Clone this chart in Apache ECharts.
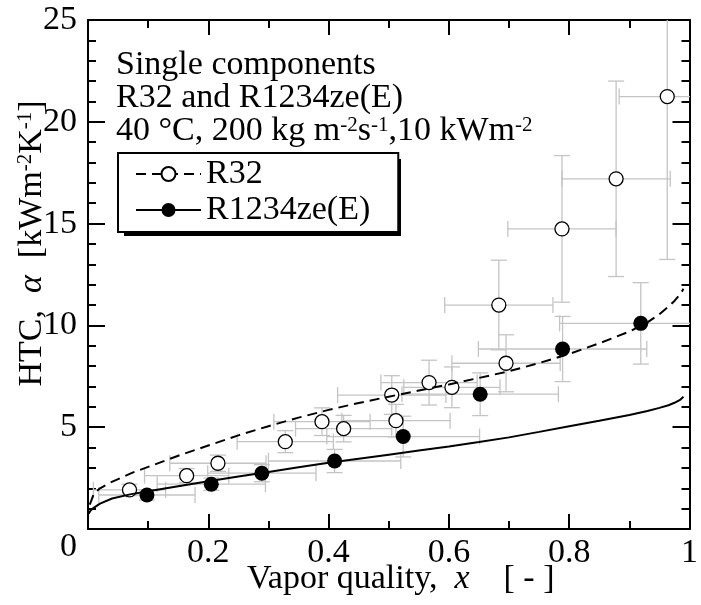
<!DOCTYPE html>
<html>
<head>
<meta charset="utf-8">
<script src="https://cdn.jsdelivr.net/npm/echarts@6/dist/echarts.min.js"></script>
<style>html,body{margin:0;padding:0;background:#fff;}#c{width:701px;height:605px;}</style>
</head>
<body>
<div id="c"></div>
<script>
// ---- data ----
const xTicks = [0, 0.2, 0.4, 0.6, 0.8, 1];
const yTicks = [0, 5, 10, 15, 20, 25];

// R32 measured (open circles)
const r32X    = [0.069, 0.164, 0.216, 0.328, 0.389, 0.425, 0.505, 0.512, 0.567, 0.605, 0.683, 0.695, 0.788, 0.878, 0.963];
const r32Y    = [1.92, 2.62, 3.23, 4.29, 5.27, 4.93, 6.58, 5.32, 7.19, 6.96, 11.0, 8.14, 14.74, 17.2, 21.24];
const r32XErr = [0.06, 0.07, 0.08, 0.08, 0.08, 0.08, 0.09, 0.09, 0.08, 0.08, 0.09, 0.09, 0.09, 0.09, 0.08];
const r32YErr = [0.28, 0.35, 0.4, 0.54, 0.68, 0.65, 0.95, 0.8, 1.1, 1.0, 2.2, 1.4, 3.6, 4.8, 8.0];

// R1234ze(E) measured (filled circles)
const rzeX    = [0.098, 0.205, 0.289, 0.41, 0.524, 0.652, 0.789, 0.919];
const rzeY    = [1.67, 2.2, 2.74, 3.34, 4.54, 6.62, 8.84, 10.1];
const rzeXErr = [0.08, 0.09, 0.09, 0.11, 0.127, 0.13, 0.14, 0.135];
const rzeYErr = [0.25, 0.3, 0.42, 0.57, 1.0, 1.05, 1.6, 2.0];

// predicted curves
const r32CurveX = [0.003, 0.01, 0.02, 0.035, 0.05, 0.075, 0.1, 0.15, 0.2, 0.25, 0.3, 0.35, 0.4, 0.45, 0.5, 0.55, 0.6, 0.65, 0.7, 0.75, 0.8, 0.85, 0.9, 0.93, 0.95, 0.965, 0.975, 0.985, 0.99];
const r32CurveY = [1.2, 1.75, 2.0, 2.25, 2.45, 2.78, 3.05, 3.6, 4.1, 4.6, 5.05, 5.47, 5.85, 6.19, 6.5, 6.8, 7.1, 7.42, 7.75, 8.15, 8.6, 9.12, 9.7, 10.15, 10.55, 10.92, 11.2, 11.55, 11.8];
const rzeCurveX = [0.001, 0.005, 0.01, 0.02, 0.04, 0.07, 0.1, 0.15, 0.2, 0.25, 0.3, 0.35, 0.4, 0.45, 0.5, 0.55, 0.6, 0.65, 0.7, 0.75, 0.8, 0.85, 0.9, 0.93, 0.95, 0.965, 0.975, 0.985, 0.99];
const rzeCurveY = [0.75, 0.93, 1.05, 1.25, 1.5, 1.7, 1.85, 2.1, 2.35, 2.58, 2.8, 3.03, 3.25, 3.45, 3.65, 3.85, 4.05, 4.27, 4.5, 4.77, 5.05, 5.32, 5.6, 5.8, 5.95, 6.08, 6.2, 6.36, 6.5];

const FONT = '"Liberation Serif", "Times New Roman", serif';
const FS = 34;
const zip = (a, b) => a.map((v, i) => [v, b[i]]);
const zip4 = (a, b, c, d) => a.map((v, i) => [v, b[i], c[i], d[i]]);

function errRender(params, api) {
  const x = api.value(0), y = api.value(1), dx = api.value(2), dy = api.value(3);
  const l = api.coord([x - dx, y]), r = api.coord([x + dx, y]);
  const t = api.coord([x, y + dy]), b = api.coord([x, y - dy]);
  const cap = 8;
  const st = { stroke: '#c4c4c4', lineWidth: 1.3 };
  const seg = (x1, y1, x2, y2) => ({ type: 'line', shape: { x1, y1, x2, y2 }, style: st });
  return {
    type: 'group',
    children: [
      seg(l[0], l[1], r[0], r[1]),
      seg(l[0], l[1] - cap, l[0], l[1] + cap),
      seg(r[0], r[1] - cap, r[0], r[1] + cap),
      seg(t[0], t[1], b[0], b[1]),
      seg(t[0] - cap, t[1], t[0] + cap, t[1]),
      seg(b[0] - cap, b[1], b[0] + cap, b[1])
    ]
  };
}

const axisLineStyle = { color: '#000', width: 2 };
const tickStyle = { color: '#000', width: 2 };

const chart = echarts.init(document.getElementById('c'), null, { renderer: 'canvas' });
chart.setOption({
  animation: false,
  backgroundColor: '#fff',
  grid: { left: 88, right: 3, top: 20, bottom: 76, containLabel: false },
  legend: {
    data: ['R32', 'R1234ze(E)'],
    orient: 'vertical',
    left: 118, top: 153, z: 6,
    itemWidth: 65, itemHeight: 17.5, itemGap: 2,
    padding: [4, 28, 5, 17],
    backgroundColor: '#fff',
    borderColor: '#000', borderWidth: 2, borderRadius: 0,
    textStyle: { fontFamily: FONT, fontSize: FS, color: '#000', lineHeight: 33 },
    selectedMode: false
  },
  graphic: [{
    // drop shadow of the legend box
    type: 'rect', left: 124, top: 159, z: 5,
    shape: { width: 277, height: 77 },
    style: { fill: '#000' }
  }, {
    type: 'text', left: 116, top: 48, z: 10,
    style: {
      text: 'Single components\nR32 and R1234ze(E)\n40 °C, 200 kg m{sup|-2}s{sup|-1},10 kWm{sup|-2}',
      fontFamily: FONT, fontSize: FS, lineHeight: 33, fill: '#000',
      rich: { sup: { fontFamily: FONT, fontSize: 21, verticalAlign: 'top', lineHeight: 33 } }
    }
  }],
  xAxis: [{
    type: 'value', position: 'bottom', min: 0, max: 1, interval: 0.2,
    axisLine: { show: true, onZero: false, lineStyle: axisLineStyle },
    axisTick: { show: true, inside: true, length: 15, lineStyle: tickStyle },
    minorTick: { show: true, splitNumber: 2, length: 8, lineStyle: tickStyle },
    splitLine: { show: false },
    axisLabel: {
      margin: 7, fontFamily: FONT, fontSize: FS, color: '#000',
      formatter: v => (Math.abs(v) < 1e-9 ? '' : (Math.abs(v - 1) < 1e-9 ? '1' : v.toFixed(1)))
    },
    name: 'Vapor quality,  {it|x}    [ - ]',
    nameLocation: 'middle', nameGap: 33, nameMoveOverlap: false,
    nameTextStyle: {
      fontFamily: FONT, fontSize: FS, color: '#000', padding: [0, 0, 0, 24],
      rich: { it: { fontFamily: FONT, fontSize: FS, fontStyle: 'italic' } }
    }
  }, {
    type: 'value', position: 'top', min: 0, max: 1, interval: 0.2,
    axisLine: { show: true, onZero: false, lineStyle: axisLineStyle },
    axisTick: { show: true, inside: true, length: 15, lineStyle: tickStyle },
    minorTick: { show: true, splitNumber: 2, length: 8, lineStyle: tickStyle },
    splitLine: { show: false }, axisLabel: { show: false }
  }],
  yAxis: [{
    type: 'value', position: 'left', min: 0, max: 25, interval: 5,
    axisLine: { show: true, onZero: false, lineStyle: axisLineStyle },
    axisTick: { show: true, inside: true, length: 17, lineStyle: tickStyle },
    minorTick: { show: true, splitNumber: 5, length: 8, lineStyle: tickStyle },
    splitLine: { show: false },
    axisLabel: {
      margin: 11, fontFamily: FONT, fontSize: FS, color: '#000',
      formatter: v => (v === 0 ? '{z|0}' : String(v)),
      rich: { z: { fontFamily: FONT, fontSize: FS, padding: [36, 0, 0, 0] } }
    },
    name: 'HTC,  {it|α}  [kWm{sup|-2}K{sup|-1}]',
    nameLocation: 'middle', nameGap: 39, nameRotate: 90, nameMoveOverlap: false,
    nameTextStyle: {
      fontFamily: FONT, fontSize: FS, color: '#000', padding: [0, 0, 0, 62],
      rich: {
        it: { fontFamily: FONT, fontSize: FS, fontStyle: 'italic' },
        sup: { fontFamily: FONT, fontSize: 21, verticalAlign: 'top', lineHeight: 33 }
      }
    }
  }, {
    type: 'value', position: 'right', min: 0, max: 25, interval: 5,
    axisLine: { show: true, onZero: false, lineStyle: axisLineStyle },
    axisTick: { show: true, inside: true, length: 17, lineStyle: tickStyle },
    minorTick: { show: true, splitNumber: 5, length: 8, lineStyle: tickStyle },
    splitLine: { show: false }, axisLabel: { show: false }
  }],
  series: [
    { type: 'custom', name: 'errR32', renderItem: errRender, data: zip4(r32X, r32Y, r32XErr, r32YErr),
      clip: true, z: 1, silent: true },
    { type: 'custom', name: 'errRze', renderItem: errRender, data: zip4(rzeX, rzeY, rzeXErr, rzeYErr),
      clip: true, z: 1, silent: true },
    { type: 'scatter', name: 'R32 data', data: zip(r32X, r32Y), symbol: 'circle', symbolSize: 14,
      itemStyle: { color: '#fff', borderColor: '#000', borderWidth: 1.3, opacity: 1 }, z: 3, silent: true },
    { type: 'scatter', name: 'R1234ze(E) data', data: zip(rzeX, rzeY), symbol: 'circle', symbolSize: 15,
      itemStyle: { color: '#000', borderColor: '#000', borderWidth: 0, opacity: 1 }, z: 3, silent: true },
    { type: 'line', name: 'R32', data: zip(r32CurveX, r32CurveY), smooth: false,
      showSymbol: false, symbol: 'circle', symbolSize: 14,
      itemStyle: { color: '#fff', borderColor: '#000', borderWidth: 1.3 },
      lineStyle: { color: '#000', width: 2, type: [10, 6] }, z: 4, silent: true },
    { type: 'line', name: 'R1234ze(E)', data: zip(rzeCurveX, rzeCurveY), smooth: false,
      showSymbol: false, symbol: 'circle', symbolSize: 15,
      itemStyle: { color: '#000', borderColor: '#000', borderWidth: 0 },
      lineStyle: { color: '#000', width: 2, type: 'solid' }, z: 4, silent: true }
  ]
});
</script>
</body>
</html>
